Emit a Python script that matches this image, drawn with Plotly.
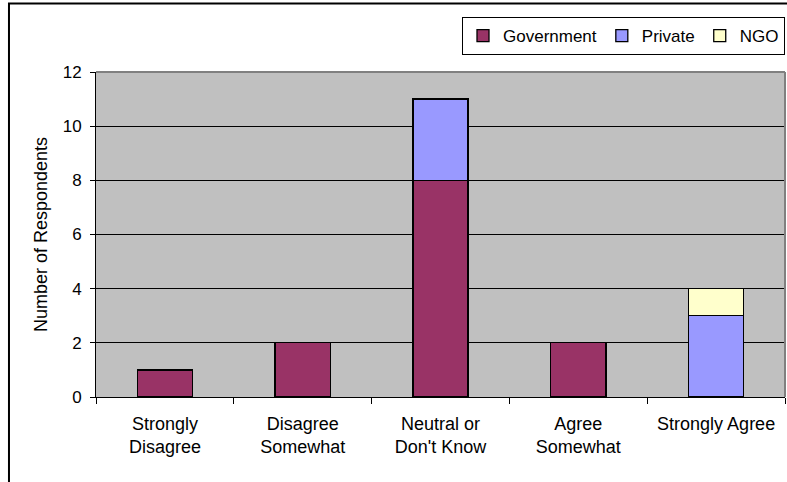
import plotly.graph_objects as go

categories = ["Strongly<br>Disagree", "Disagree<br>Somewhat", "Neutral or<br>Don't Know",
              "Agree<br>Somewhat", "Strongly Agree"]
government = [1, 2, 8, 2, 0]
private = [0, 0, 3, 0, 3]
ngo = [0, 0, 0, 0, 1]
y_ticks = [0, 2, 4, 6, 8, 10, 12]

FONT = "Liberation Sans, Arial, sans-serif"

fig = go.Figure()
for name, vals, color in [("Government", government, "#993366"),
                          ("Private", private, "#9999FF"),
                          ("NGO", ngo, "#FFFFCC")]:
    fig.add_trace(go.Bar(x=categories, y=vals, name=name,
                         marker=dict(color=color, line=dict(color="black", width=1.3))))

fig.update_layout(
    width=787, height=482,
    barmode="stack", bargap=0.6,
    paper_bgcolor="white", plot_bgcolor="#C0C0C0",
    margin=dict(l=96, r=2, t=72, b=85, autoexpand=False),
    font=dict(family=FONT, size=18, color="black"),
    showlegend=True,
    legend=dict(orientation="h", x=1.0, y=1.169, xanchor="right", yanchor="top",
                bordercolor="black", borderwidth=1, bgcolor="white",
                font=dict(size=17), itemwidth=30, traceorder="normal"),
    shapes=[
        dict(type="line", xref="paper", yref="paper", x0=0, x1=1, y0=1, y1=1,
             line=dict(color="#808080", width=2), layer="above"),
        dict(type="line", xref="paper", yref="paper", x0=1, x1=1, y0=0, y1=1,
             line=dict(color="#808080", width=2), layer="above"),
        dict(type="rect", xref="paper", yref="paper", x0=-0.1263, x1=1.2, y0=-0.4, y1=1.2108,
             line=dict(color="black", width=2), layer="above"),
    ],
)
fig.update_xaxes(showline=True, linecolor="black", linewidth=1, ticks="outside",
                 tickson="boundaries", ticklen=6, tickcolor="black", showgrid=False,
                 tickfont=dict(size=18), ticklabelstandoff=10)
fig.update_yaxes(range=[0, 12], tickvals=y_ticks, showline=True, linecolor="black", linewidth=1,
                 ticks="outside", ticklen=5, tickcolor="black", showgrid=True,
                 gridcolor="black", gridwidth=1, zeroline=False, tickfont=dict(size=17),
                 ticklabelstandoff=5,
                 title=dict(text="Number of Respondents", font=dict(size=18), standoff=10))

fig.write_html("out.html")
